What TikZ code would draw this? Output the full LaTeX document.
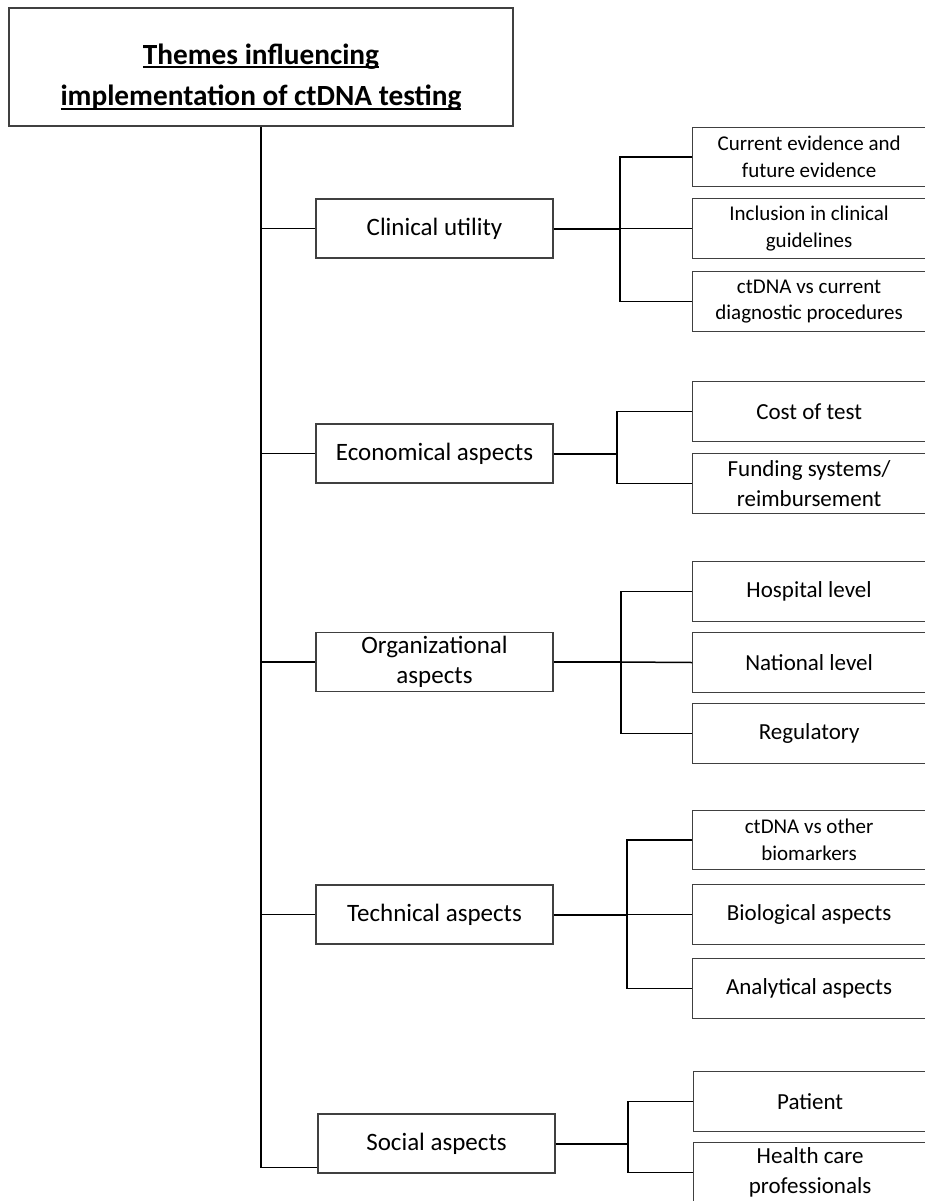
\documentclass[tikz,border=0pt]{standalone}
\usepackage{fontspec}
\setmainfont{Carlito}
\usetikzlibrary{calc}
\newcommand{\myul}[1]{\setbox0\hbox{#1}\rlap{\vrule width\wd0 height -2.4pt depth 4.4pt}\box0}
\tikzset{
  box/.style={draw=black!75, line width=1.2pt, fill=white, inner sep=0pt, align=center},
  mainbox/.style={box, minimum width=237pt, minimum height=59pt, font=\fontsize{25}{30}\selectfont},
  subbox/.style={box, minimum width=233pt, minimum height=59.5pt, anchor=west, font=\fontsize{23}{30}\selectfont},
  smallsub/.style={subbox, font=\fontsize{21}{26.5}\selectfont},
  conn/.style={draw=black, line width=1.5pt},
  thickconn/.style={draw=black, line width=2pt},
  trunkline/.style={draw=black, line width=2.4pt},
}
\begin{document}
\begin{tikzpicture}[x=1pt,y=-1pt]
\useasboundingbox (0,0) rectangle (924,1201);
% title
\node[box, minimum width=504pt, minimum height=118pt] (title) at (261,67) {};
\node[align=center, inner sep=0pt, font=\fontsize{29.3}{41.5}\selectfont\bfseries] (titletext) at (261,77)
  {\myul{Themes influencing}\\\myul{implementation of ctDNA testing}};
% main boxes
\node[mainbox] (clin) at (434.5,228.5) {Clinical utility};
\node[mainbox] (econ) at (434.5,453.5) {Economical aspects};
\node[mainbox] (org)  at (434.5,662) {Organizational\\aspects};
\node[mainbox] (tech) at (434.5,914.5) {Technical aspects};
\node[mainbox] (soc)  at (436.5,1143.5) {Social aspects};
% sub boxes
\node[smallsub] (c1) at (692,157) {Current evidence and\\future evidence};
\node[smallsub] (c2) at (692,228.5) {Inclusion in clinical\\guidelines};
\node[smallsub] (c3) at (692,301.5) {ctDNA vs current\\diagnostic procedures};
\node[subbox] (e1) at (692,411.5) {Cost of test};
\node[subbox] (e2) at (692,483.5) {Funding systems/\\reimbursement};
\node[subbox] (o1) at (692,591.5) {Hospital level};
\node[subbox] (o2) at (692,662.5) {National level};
\node[subbox] (o3) at (692,733.5) {Regulatory};
\node[smallsub] (t1) at (692,840) {ctDNA vs other\\biomarkers};
\node[subbox] (t2) at (692,914.5) {Biological aspects};
\node[subbox] (t3) at (692,988.5) {Analytical aspects};
\node[subbox] (s1) at (693,1101.5) {Patient};
\node[subbox] (s2) at (693,1172.5) {Health care\\professionals};
% junctions
\coordinate (cj) at (620,228.5);
\coordinate (ej) at (617,453.5);
\coordinate (oj) at (621,662);
\coordinate (tj) at (627,914.5);
\coordinate (sj) at (628,1143.5);
\coordinate (tend) at ($(soc.south west)+(0,-6)$);
% trunk
\draw[trunkline] (title.south) -- (title.south |- tend);
\draw[conn] (title.south |- tend) -- (tend);
\draw[conn] (title.south |- clin.west) -- (clin.west);
\draw[conn] (title.south |- econ.west) -- (econ.west);
\draw[conn] (title.south |- org.west) -- (org.west);
\draw[conn] (title.south |- tech.west) -- (tech.west);
% clinical
\draw[thickconn] (clin.east) -- (cj);
\draw[conn] (cj) -- (c2.west);
\draw[conn] (c1.west) -| (cj) |- (c3.west);
% economical
\draw[thickconn] (econ.east) -- (ej);
\draw[conn] (e1.west) -| (ej) |- (e2.west);
% organizational
\draw[thickconn] (org.east) -- (oj);
\draw[conn] (oj) -- (o2.west);
\draw[conn] (o1.west) -| (oj) |- (o3.west);
% technical
\draw[thickconn] (tech.east) -- (tj);
\draw[conn] (tj) -- (t2.west);
\draw[conn] (t1.west) -| (tj) |- (t3.west);
% social
\draw[thickconn] (soc.east) -- (sj);
\draw[conn] (s1.west) -| (sj) |- (s2.west);
\end{tikzpicture}
\end{document}
